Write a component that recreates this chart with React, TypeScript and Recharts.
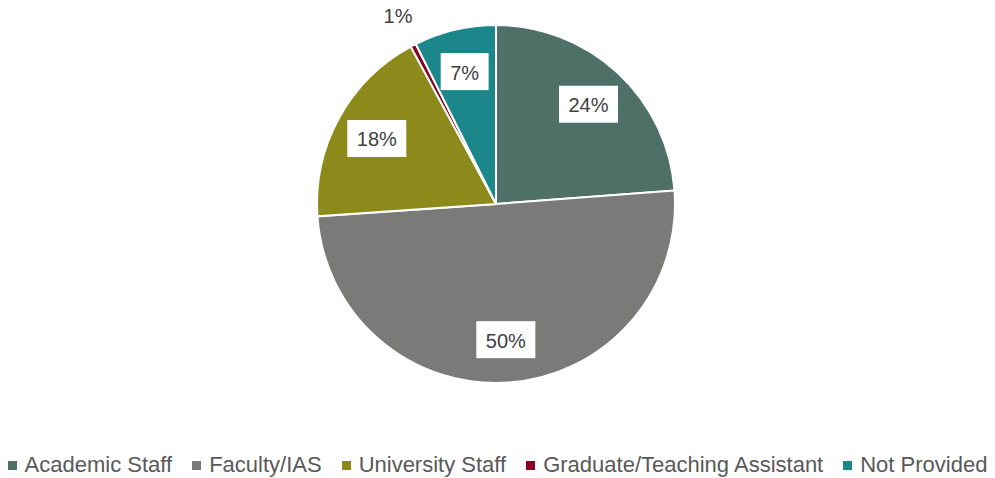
import React from "react";
import { PieChart, Pie, Cell, Legend } from "recharts";

const categories = [
  "Academic Staff",
  "Faculty/IAS",
  "University Staff",
  "Graduate/Teaching Assistant",
  "Not Provided",
];
const shares = [23.8, 50.1, 18.2, 0.5, 7.4];
const colors = ["#4e7066", "#7a7b79", "#8c8a1a", "#8b0022", "#1b878b"];

const data = categories.map((name, i) => ({ name, value: shares[i] }));

const RAD = Math.PI / 180;
const FONT = "'Liberation Sans', Arial, sans-serif";

const renderLabel = (props: any) => {
  const { cx, cy, midAngle, outerRadius, value } = props;
  const text = `${Math.round(value)}%`;
  const fs = 20;
  if (value < 2) {
    const r = outerRadius + 33;
    const x = cx + r * Math.cos(-midAngle * RAD);
    const y = cy + r * Math.sin(-midAngle * RAD);
    return (
      <text x={x} y={y} textAnchor="middle" dominantBaseline="central" fill="#404040" fontSize={fs} fontFamily={FONT}>
        {text}
      </text>
    );
  }
  const r = outerRadius * 0.76;
  const x = cx + r * Math.cos(-midAngle * RAD);
  const y = cy + r * Math.sin(-midAngle * RAD);
  const digits = text.length - 1;
  const tw = (digits * 0.556 + 0.889) * fs;
  const bw = tw + 19;
  const bh = 37;
  return (
    <g>
      <rect x={x - bw / 2} y={y - bh / 2} width={bw} height={bh} fill="#ffffff" />
      <text x={x} y={y + 1} textAnchor="middle" dominantBaseline="central" fill="#404040" fontSize={fs} fontFamily={FONT}>
        {text}
      </text>
    </g>
  );
};

const renderLegend = () => (
  <div
    style={{
      display: "flex",
      justifyContent: "center",
      alignItems: "center",
      gap: 20,
      fontFamily: FONT,
      fontSize: 22,
      color: "#595959",
      whiteSpace: "nowrap",
    }}
  >
    {categories.map((c, i) => (
      <div key={c} style={{ display: "flex", alignItems: "center" }}>
        <span style={{ display: "inline-block", width: 9, height: 9, background: colors[i], marginRight: 8 }} />
        <span>{c}</span>
      </div>
    ))}
  </div>
);

export default function App() {
  return (
    <div style={{ position: "absolute", left: 0, top: 0, width: 995, height: 478, background: "#fff" }}>
      <PieChart width={995} height={478} margin={{ top: 0, right: 0, bottom: 0, left: 0 }}>
        <Pie
          data={data}
          dataKey="value"
          nameKey="name"
          cx={496}
          cy={204}
          outerRadius={179}
          startAngle={90}
          endAngle={-270}
          stroke="#ffffff"
          strokeWidth={2}
          label={renderLabel}
          labelLine={false}
          isAnimationActive={false}
        >
          {data.map((d, i) => (
            <Cell key={d.name} fill={colors[i]} />
          ))}
        </Pie>
        <Legend
          content={renderLegend}
          wrapperStyle={{ left: 0, width: 995, top: 452, height: 28 }}
        />
      </PieChart>
    </div>
  );
}
